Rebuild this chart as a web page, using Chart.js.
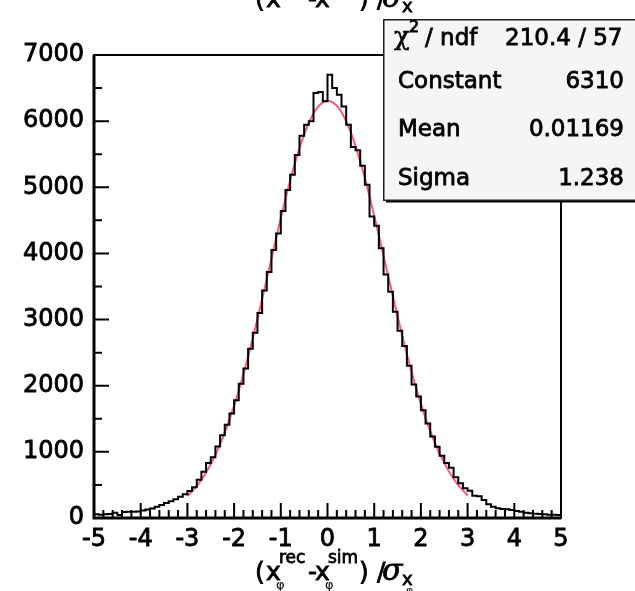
<!DOCTYPE html>
<html><head><meta charset="utf-8">
<script src="https://cdn.jsdelivr.net/npm/chart.js@4.4.1/dist/chart.umd.min.js"></script>
<style>html,body{margin:0;padding:0;background:#fff;}canvas{display:block;}</style>
</head><body>
<canvas id="c" width="635" height="591"></canvas>
<script>
// ---- data ----
const xMin = -5, xMax = 5, binWidth = 0.1;
const counts = [
  55, 50, 55, 60, 80, 45, 90, 95, 95, 100,
  115, 130, 145, 170, 195, 225, 255, 285, 320, 360,
  410, 465, 580, 700, 830, 920, 1080, 1250, 1410, 1580,
  1780, 2030, 2260, 2560, 2800, 3100, 3440, 3720, 4050, 4300,
  4640, 4960, 5190, 5490, 5780, 5946, 6000, 6425, 6440, 6300,
  6703, 6500, 6400, 6223, 5946, 5610, 5560, 5326, 5038, 4560,
  4420, 4080, 3680, 3420, 3120, 2830, 2600, 2300, 2020, 1836,
  1630, 1430, 1231, 1079, 940, 830, 760, 615, 525, 449,
  413, 338, 330, 272, 207, 171, 146, 136, 131, 121,
  106, 96, 81, 71, 66, 61, 55, 50, 48, 45
];
const fitX = [-3, -2.75, -2.5, -2.25, -2, -1.75, -1.5, -1.25, -1, -0.75, -0.5, -0.25, 0,
              0.25, 0.5, 0.75, 1, 1.25, 1.5, 1.75, 2, 2.25, 2.5, 2.75, 3];
const fitY = [330, 528, 812, 1200, 1695, 2305, 3010, 3770, 4535, 5235, 5800, 6175, 6310,
              6190, 5830, 5270, 4570, 3810, 3050, 2340, 1725, 1220, 830, 542, 340];
const yTickValues = [0, 1000, 2000, 3000, 4000, 5000, 6000, 7000];
const xTickValues = [-5, -4, -3, -2, -1, 0, 1, 2, 3, 4, 5];
const statNames = ["Constant", "Mean", "Sigma"];
const statValues = ["6310", "0.01169", "1.238"];
const chi2Text = "210.4 / 57";

// ---- build datasets ----
const histPts = counts.map((v, i) => ({x: +(xMin + i * binWidth).toFixed(2), y: v}));
histPts.push({x: xMax, y: counts[counts.length - 1]});
const fitPts = fitX.map((x, i) => ({x: x, y: fitY[i]}));

const SANS = '"DejaVu Sans", sans-serif';
const SERIF = '"DejaVu Serif", serif';
const STROKE = 0.8;

function txt(ctx, s, x, y, font, stroke) {
  ctx.font = font;
  ctx.fillText(s, x, y);
  if (stroke) { ctx.lineWidth = stroke; ctx.strokeText(s, x, y); }
}

function drawFormula(ctx, x0, base, withPhi) {
  const parts = [
    {t:'(', dx:0, dy:0, sz:25, f:SANS},
    {t:'x', dx:11, dy:0, sz:25, f:SANS},
    {t:'rec', dx:24, dy:-17, sz:17, f:SANS},
    {t:'\u03C6', dx:21, dy:9, sz:13, f:SANS, phi:true},
    {t:'-', dx:53, dy:0, sz:25, f:SANS},
    {t:'x', dx:60, dy:0, sz:25, f:SANS},
    {t:'sim', dx:73, dy:-17, sz:17, f:SANS},
    {t:'\u03C6', dx:70, dy:9, sz:13, f:SANS, phi:true},
    {t:')', dx:104, dy:0, sz:25, f:SANS},
    {t:'/', dx:122, dy:0, sz:25, f:SANS},
    {t:'\u03C3', dx:127, dy:0, sz:30, f:SERIF, st:'italic '},
    {t:'x', dx:147, dy:5, sz:18, f:SANS},
    {t:'\u03C6', dx:151, dy:14, sz:11, f:SANS, phi:true}
  ];
  ctx.save();
  ctx.fillStyle = '#000';
  ctx.strokeStyle = '#000';
  ctx.textBaseline = 'alphabetic';
  ctx.textAlign = 'left';
  parts.forEach(p => {
    if (p.phi && !withPhi) return;
    txt(ctx, p.t, x0 + p.dx, base + p.dy, (p.st || '') + p.sz + 'px ' + p.f, p.phi ? 0 : STROKE);
  });
  ctx.restore();
}

const rootPlugin = {
  id: 'rootStyle',
  afterDatasetsDraw(chart) {
    const ctx = chart.ctx;
    const xs = chart.scales.x, ys = chart.scales.y;
    const L = chart.chartArea.left, R = chart.chartArea.right;
    const T = chart.chartArea.top, B = chart.chartArea.bottom;
    ctx.save();
    ctx.strokeStyle = '#000';
    ctx.lineWidth = 2;
    ctx.strokeRect(L, T, R - L, B - T);
    ctx.lineWidth = 3;
    ctx.beginPath();
    ctx.moveTo(L, T); ctx.lineTo(L, B + 1.5);
    ctx.moveTo(L - 1.5, B); ctx.lineTo(R, B);
    ctx.stroke();
    ctx.lineWidth = 2;
    ctx.beginPath();
    for (let v = 0; v <= 7000; v += 500) {
      const py = ys.getPixelForValue(v);
      const len = (v % 1000 === 0) ? 15 : 8;
      ctx.moveTo(L, py); ctx.lineTo(L + len, py);
    }
    for (let k = 0; k <= 50; k++) {
      const v = -5 + k * 0.2;
      const px = xs.getPixelForValue(v);
      const len = (k % 5 === 0) ? 15 : 8;
      ctx.moveTo(px, B); ctx.lineTo(px, B - len);
    }
    ctx.stroke();
    ctx.restore();
  },
  afterDraw(chart) {
    const ctx = chart.ctx;
    drawFormula(ctx, 255, 7, false);
    drawFormula(ctx, 255, 580, true);
    // stats box
    const bx = 383, by = 19, bw = 270, bh = 181;
    ctx.save();
    ctx.fillStyle = '#000';
    ctx.fillRect(bx + 3, by + bh, bw, 2.5);
    ctx.fillStyle = '#f5f5f5';
    ctx.fillRect(bx, by, bw, bh);
    ctx.strokeStyle = '#222';
    ctx.lineWidth = 1.5;
    ctx.strokeRect(bx + 0.75, by + 0.75, bw, bh - 0.5);
    ctx.fillStyle = '#000';
    ctx.strokeStyle = '#000';
    ctx.textBaseline = 'alphabetic';
    ctx.textAlign = 'left';
    txt(ctx, '\u03C7', 394, 45, '26px ' + SERIF, 0.5);
    txt(ctx, '2', 409, 32, '16px ' + SANS, STROKE);
    const F = '23px ' + SANS;
    txt(ctx, '/ ndf', 425, 45, F, STROKE);
    txt(ctx, chi2Text, 505, 45, F, STROKE);
    const rowBase = [88, 136, 185];
    statNames.forEach((n, i) => {
      ctx.textAlign = 'left';
      txt(ctx, n, 398, rowBase[i], F, STROKE);
      ctx.textAlign = 'right';
      txt(ctx, statValues[i], 624, rowBase[i], F, STROKE);
    });
    ctx.restore();
  }
};

const tickFont = {family: 'DejaVu Sans', size: 24};

new Chart(document.getElementById('c'), {
  type: 'line',
  data: {
    datasets: [
      {label: 'hist', data: histPts, stepped: true, borderColor: '#000', borderWidth: 2,
       pointRadius: 0, fill: false, tension: 0},
      {label: 'fit', data: fitPts, borderColor: '#ff5a78', borderWidth: 2, pointRadius: 0,
       fill: false, cubicInterpolationMode: 'monotone'}
    ]
  },
  options: {
    responsive: false,
    animation: false,
    devicePixelRatio: 1,
    layout: {padding: {top: 55, right: 74, left: 0, bottom: 0}},
    plugins: {legend: {display: false}, tooltip: {enabled: false}, title: {display: false}},
    scales: {
      x: {
        type: 'linear', min: xMin, max: xMax,
        afterBuildTicks(s) { s.ticks = xTickValues.map(v => ({value: v})); },
        ticks: {font: tickFont, color: '#000', padding: 7, textStrokeColor: '#000', textStrokeWidth: STROKE,
                maxRotation: 0, autoSkip: false, callback: v => String(v)},
        grid: {display: false, drawTicks: false},
        border: {display: false},
        afterFit(s) { s.height = 73; }
      },
      y: {
        type: 'linear', min: 0, max: 7000,
        afterBuildTicks(s) { s.ticks = yTickValues.map(v => ({value: v})); },
        ticks: {font: tickFont, color: '#000', padding: 10, textStrokeColor: '#000', textStrokeWidth: STROKE,
                callback: v => String(v)},
        grid: {display: false, drawTicks: false},
        border: {display: false},
        afterFit(s) { s.width = 94; }
      }
    }
  },
  plugins: [rootPlugin]
});
</script>
</body></html>
